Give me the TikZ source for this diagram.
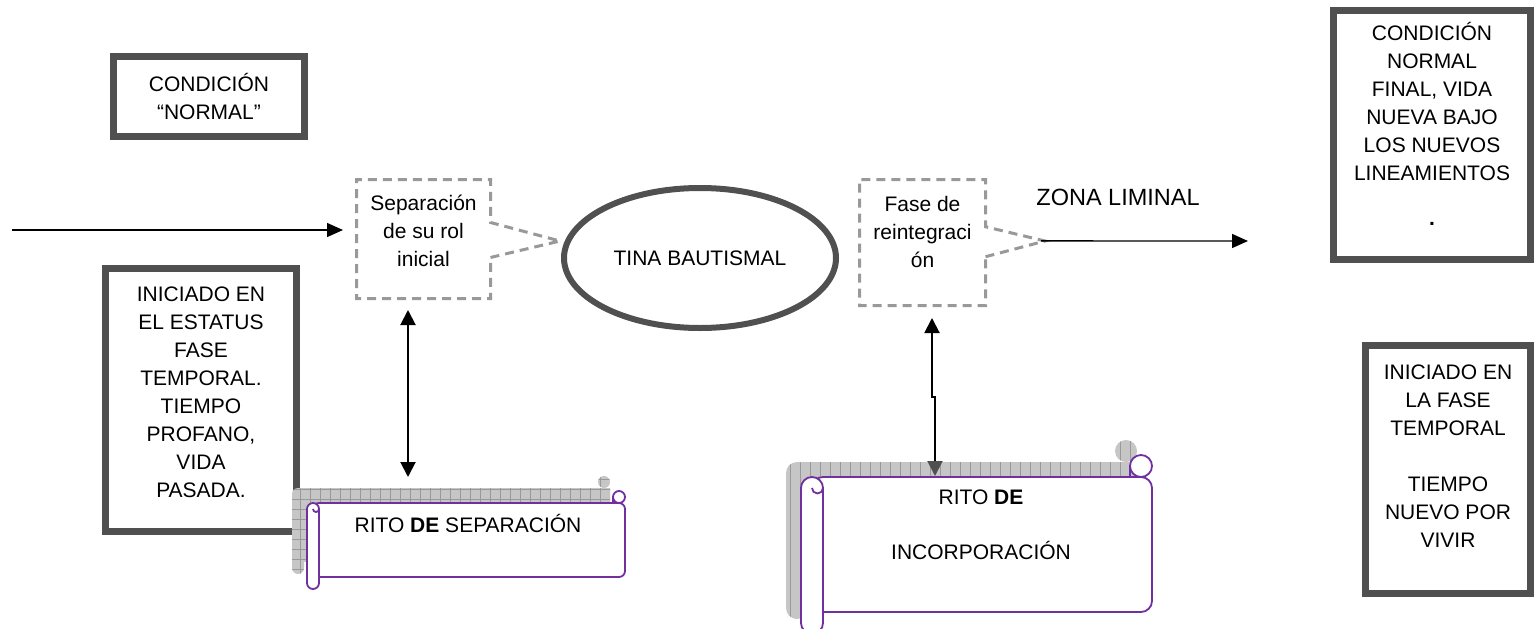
\documentclass[tikz,border=0pt]{standalone}
\usepackage{fontspec}
\setmainfont{Liberation Sans}
\usetikzlibrary{positioning,shapes.geometric,shapes.callouts,arrows.meta,patterns.meta}

\definecolor{marco}{HTML}{505050}
\definecolor{morado}{HTML}{7030A0}
\newcommand{\letra}{\fontsize{21}{28}\selectfont}

% pergamino: izquierda, arriba, derecha, abajo, radio, sombra
\newcommand{\pergamino}[6]{%
  \begin{scope}[shift={(-15,-15)}]
    \fill[#6] ({#1+#5},#2) rectangle (#3,#4);
    \fill[#6, rounded corners=#5pt] (#1,#2) rectangle ({#1+2*#5},{#4+2*#5});
    \fill[#6] ({#3-#5},{#2-#5}) circle[radius=#5];
  \end{scope}
  \filldraw[papel] (#3,#2) [rounded corners=#5pt] -- (#3,#4) -- ({#1+#5},#4) -- ({#1+#5},#2) -- cycle;
  \filldraw[papel, rounded corners=#5pt] (#1,#2) rectangle ({#1+2*#5},{#4+2*#5});
  \filldraw[papel] ({#3-#5},{#2-#5}) circle[radius=#5];
  \draw[papel] ({#1+2*#5},{#2+#5}) arc[start angle=0,end angle=180,radius=#5/2];
  \draw[papel] ({#3-2*#5},{#2-#5}) -- ({#3-2*#5},#2);
}

\begin{document}
\begin{tikzpicture}[x=1pt, y=-1pt,
    caja/.style={draw=marco, line width=7pt, align=center, font=\letra, inner sep=0pt},
    llamada/.style={rectangle callout, draw=gray!80, line width=3pt, dash pattern=on 9pt off 6pt, align=center, font=\letra, inner sep=0pt},
    tina/.style={ellipse, draw=marco, line width=6pt, font=\letra},
    rito/.style={align=center, font=\letra},
    papel/.style={draw=morado, fill=white, line width=1.8pt},
    sombra/.style={fill=gray!45, postaction={pattern={Lines[angle=90,distance=10pt,line width=.6pt]}, pattern color=gray!80}},
    rejilla/.style={sombra, postaction={pattern={Lines[angle=0,distance=10pt,line width=.6pt]}, pattern color=gray!80}},
    flecha/.style={-{Triangle[length=16pt,width=14pt]}, line width=1.4pt},
    doble/.style={{Triangle[length=15pt,width=15pt]}-{Triangle[length=15pt,width=15pt]}, line width=2pt}]
  \useasboundingbox (0,0) rectangle (1534,629);

  % cajas de los extremos
  \node[caja, minimum width=191pt, minimum height=80pt] (normal) at (209,96.5) {CONDICIÓN\\“NORMAL”};
  \node[caja, minimum width=191pt, minimum height=263pt] (pasado) at (201,400)
    {INICIADO EN\\EL ESTATUS\\FASE\\TEMPORAL.\\TIEMPO\\PROFANO,\\VIDA\\PASADA.\\[-12pt]~};
  \node[caja, minimum width=197pt, minimum height=249pt] (final) at (1432,135)
    {CONDICIÓN\\NORMAL\\FINAL, VIDA\\NUEVA BAJO\\LOS NUEVOS\\LINEAMIENTOS\\[17pt]\textbf{.}\\[-6pt]~};
  \node[caja, minimum width=165pt, minimum height=248pt] (nuevo) at (1448,469.5)
    {INICIADO EN\\LA FASE\\TEMPORAL\\[28pt]TIEMPO\\NUEVO POR\\VIVIR\\[-2pt]~};

  % centro
  \node[tina, minimum width=272pt, minimum height=140pt] (tina) at (700,258) {TINA BAUTISMAL};
  \node[llamada, minimum width=134pt, minimum height=119pt, callout absolute pointer={(560,241)},
    callout pointer width=35pt] (sepcall) at (423.5,239) {Separación\\de su rol\\inicial\\[-12pt]~};
  \node[llamada, minimum width=126pt, minimum height=126pt, callout absolute pointer={(1045,241)},
    callout pointer width=30pt] (fasecall) at (922.5,242.5) {Fase de\\reintegraci\\ón\\[-6pt]~};
  \node[font=\fontsize{23.5}{28}\selectfont] (zona) at (1118,197) {ZONA LIMINAL};

  % pergaminos
  \pergamino{307}{503}{625}{577}{6}{rejilla}
  \pergamino{801}{477}{1152}{612}{11}{sombra}
  \node[rito] (ritosep) at (468,523) {RITO \textbf{DE} SEPARACIÓN};
  \node[rito] (ritoinc) at (981,525) {RITO \textbf{DE}\\[27pt]INCORPORACIÓN};

  \coordinate (inicio) at (12,230);
  \coordinate (fin) at (1248,241);
  \coordinate (septop) at (408,477);
  \coordinate (inctop) at (935,476);

  \draw[flecha, shorten >=12pt] (inicio) -- (inicio -| sepcall.west);
  \draw[flecha] ([xshift=-10pt]fasecall.pointer) -- (fin);
  \draw[doble] ([xshift=-15.5pt,yshift=-10pt]sepcall.south) -- (septop);
  \draw[{Triangle[length=15pt,width=15pt]}-{Triangle[length=15pt,width=15pt,color=marco]}, line width=2pt]
    ([xshift=9.5pt,yshift=-11pt]fasecall.south) -- ++(0,79) -- ++(3,0) -- (inctop);
\end{tikzpicture}
\end{document}
